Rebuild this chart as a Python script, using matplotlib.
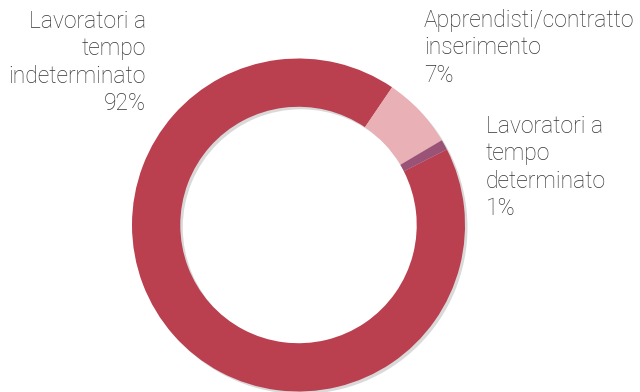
import matplotlib
matplotlib.use("Agg")
import matplotlib.pyplot as plt
from matplotlib.patches import Wedge

labels = ["Lavoratori a\ntempo\nindeterminato", "Apprendisti/contratto\ninserimento", "Lavoratori a\ntempo\ndeterminato"]
values = [92, 7, 1]
pct_labels = ["92%", "7%", "1%"]
colors = ["#BA3F4F", "#E9B0B6", "#9A5276"]

plt.rcParams['font.family'] = ['Roboto', 'DejaVu Sans']

W, H = 640, 392
fig = plt.figure(figsize=(6.4, 3.92), dpi=100)
ax = fig.add_axes([0, 0, 1, 1])

cx, cy, R = 298.5, H - 225, 166.5
width = R * 0.29

# subtle shadow
shadow = Wedge((cx + 2.5, cy - 2.5), R, 0, 360, width=width, facecolor="#000000", alpha=0.15, edgecolor="none")
ax.add_patch(shadow)

ax.pie(values, colors=colors, startangle=27, counterclock=False, radius=R, center=(cx, cy),
       wedgeprops=dict(width=width, edgecolor="none"), frame=True)

ax.set_xlim(0, W)
ax.set_ylim(0, H)
ax.set_aspect('equal')
ax.axis('off')

fs = 16.5
tc = "#333333"
ls = 1.24
ax.text(146, H - 10, labels[0] + "\n" + pct_labels[0], ha="right", va="top", fontsize=fs,
        color=tc, fontweight="light", linespacing=ls, multialignment="right")
ax.text(424, H - 9, labels[1] + "\n" + pct_labels[1], ha="left", va="top", fontsize=fs,
        color=tc, fontweight="light", linespacing=ls)
ax.text(486, H - 115, labels[2] + "\n" + pct_labels[2], ha="left", va="top", fontsize=fs,
        color=tc, fontweight="light", linespacing=ls)

fig.savefig("out.png", dpi=100)
